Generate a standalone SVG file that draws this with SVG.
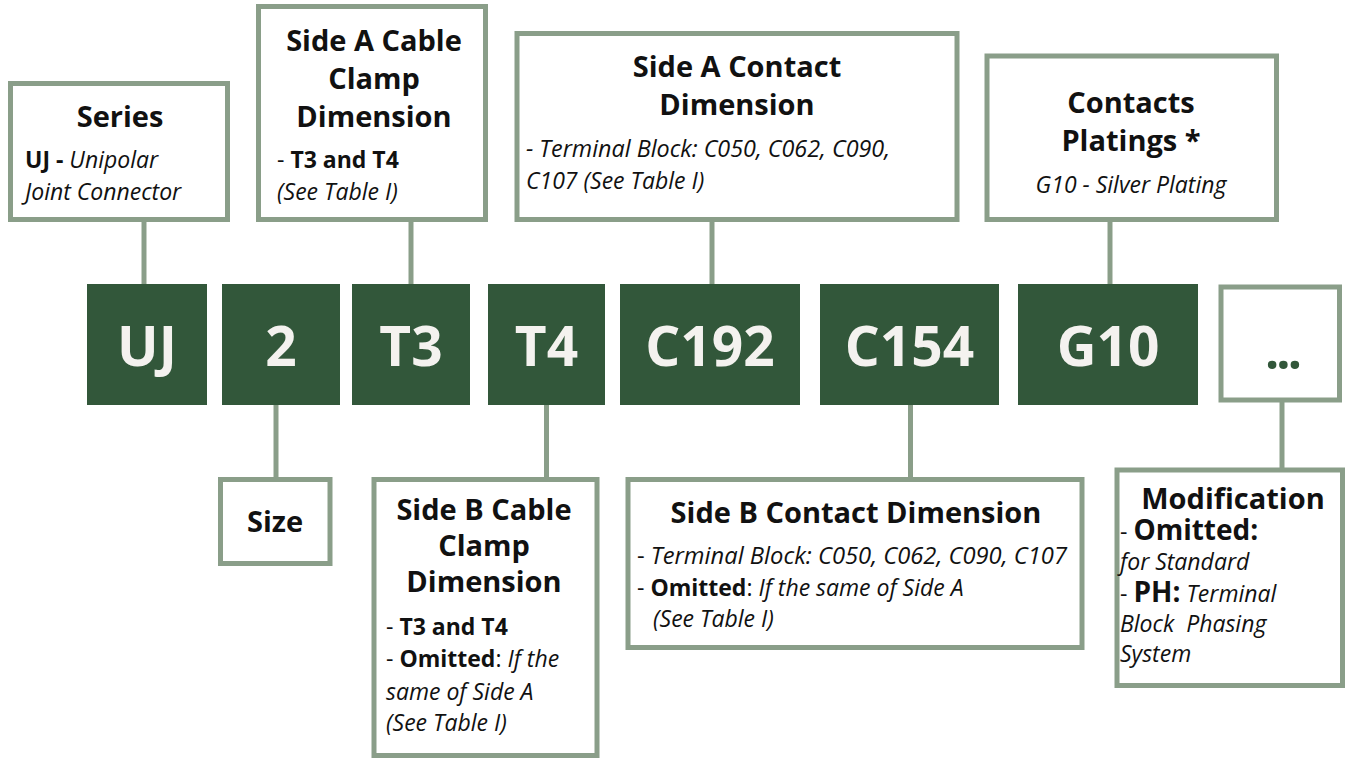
<svg xmlns="http://www.w3.org/2000/svg" width="1349" height="759" viewBox="0 0 1349 759">
<style>
.box{fill:#ffffff;stroke:#8a9e89;stroke-width:5}
.code{fill:#32573a}
.codet{font-family:"Open Sans","Liberation Sans",sans-serif;font-weight:700;font-size:55px;fill:#f4f2ef;text-anchor:middle}
.dots{font-family:"Open Sans","Liberation Sans",sans-serif;font-weight:700;font-size:50px;fill:#32573a;text-anchor:middle;letter-spacing:-3px}
.title{font-family:"Open Sans","Liberation Sans",sans-serif;font-weight:700;font-size:29px;fill:#111;text-anchor:middle}
.body{font-family:"Open Sans","Liberation Sans",sans-serif;font-size:23px;fill:#111}
.b{font-weight:700}
.i{font-style:italic}
.big{font-weight:700;font-size:28px}
.conn{stroke:#8a9e89;stroke-width:5;fill:none}
</style>
<rect width="1349" height="759" fill="#ffffff"/>
<g id="connectors">
<line class="conn" x1="144" y1="222" x2="144" y2="285"/>
<line class="conn" x1="411" y1="222" x2="411" y2="285"/>
<line class="conn" x1="712" y1="222" x2="712" y2="285"/>
<line class="conn" x1="1110" y1="222" x2="1110" y2="285"/>
<line class="conn" x1="276" y1="404" x2="276" y2="478"/>
<line class="conn" x1="546.5" y1="404" x2="546.5" y2="478"/>
<line class="conn" x1="910.5" y1="404" x2="910.5" y2="478"/>
<line class="conn" x1="1282" y1="401" x2="1282" y2="469"/>
</g>
<g id="code-UJ"><rect class="code" x="87" y="284" width="120" height="121"/><text class="codet" x="147" y="366">UJ</text></g>
<g id="code-2"><rect class="code" x="222" y="284" width="118" height="121"/><text class="codet" x="281" y="366">2</text></g>
<g id="code-T3"><rect class="code" x="352" y="284" width="118" height="121"/><text class="codet" x="411" y="366">T3</text></g>
<g id="code-T4"><rect class="code" x="488" y="284" width="117" height="121"/><text class="codet" x="546.5" y="366">T4</text></g>
<g id="code-C192"><rect class="code" x="620" y="284" width="180" height="121"/><text class="codet" x="710" y="366">C192</text></g>
<g id="code-C154"><rect class="code" x="820" y="284" width="179" height="121"/><text class="codet" x="909.5" y="366">C154</text></g>
<g id="code-G10"><rect class="code" x="1018" y="284" width="180" height="121"/><text class="codet" x="1108" y="366">G10</text></g>
<g id="code-more"><rect class="box" x="1221" y="287" width="118.5" height="113"/><text class="dots" x="1282" y="369">...</text></g>
<g id="series">
<rect class="box" x="10.5" y="83.5" width="217" height="136"/>
<text class="title" x="120" y="127">Series</text>
<text class="body" x="25" y="168"><tspan class="b">UJ - </tspan><tspan class="i">Unipolar</tspan></text>
<text class="body i" x="25" y="200">Joint Connector</text>
</g>
<g id="side-a-cable">
<rect class="box" x="258.5" y="6.5" width="227" height="213"/>
<text class="title" x="374" y="51">Side A Cable</text>
<text class="title" x="374" y="88.5">Clamp</text>
<text class="title" x="374" y="126.5">Dimension</text>
<text class="body" x="277" y="168">- <tspan class="b">T3 and T4</tspan></text>
<text class="body i" x="277" y="199.5">(See Table I)</text>
</g>
<g id="side-a-contact">
<rect class="box" x="517" y="33.5" width="440" height="186"/>
<text class="title" x="737" y="77">Side A Contact</text>
<text class="title" x="737" y="115">Dimension</text>
<text class="body i" x="526" y="157" textLength="364" lengthAdjust="spacingAndGlyphs">- Terminal Block: C050, C062, C090,</text>
<text class="body i" x="526" y="188.5">C107 (See Table I)</text>
</g>
<g id="contacts-platings">
<rect class="box" x="987" y="56" width="289.5" height="163.5"/>
<text class="title" x="1131" y="112.5">Contacts</text>
<text class="title" x="1131" y="151">Platings *</text>
<text class="body i" x="1131" y="192.5" text-anchor="middle">G10 - Silver Plating</text>
</g>
<g id="size">
<rect class="box" x="220.5" y="479.5" width="109.5" height="84"/>
<text class="title" x="275" y="531.5">Size</text>
</g>
<g id="side-b-cable">
<rect class="box" x="374" y="479.5" width="223" height="276"/>
<text class="title" x="484" y="520">Side B Cable</text>
<text class="title" x="484" y="556">Clamp</text>
<text class="title" x="484" y="592">Dimension</text>
<text class="body" x="386" y="635">- <tspan class="b">T3 and T4</tspan></text>
<text class="body" x="386" y="667">- <tspan class="b">Omitted</tspan>: <tspan class="i">If the</tspan></text>
<text class="body i" x="386" y="700">same of Side A</text>
<text class="body i" x="386" y="731">(See Table I)</text>
</g>
<g id="side-b-contact">
<rect class="box" x="628" y="479.5" width="454" height="168"/>
<text class="title" x="856" y="523">Side B Contact Dimension</text>
<text class="body" x="637" y="564" textLength="430" lengthAdjust="spacingAndGlyphs">- <tspan class="i">Terminal Block: C050, C062, C090, C107</tspan></text>
<text class="body" x="637" y="596">- <tspan class="b">Omitted</tspan>: <tspan class="i">If the same of Side A</tspan></text>
<text class="body i" x="653" y="627">(See Table I)</text>
</g>
<g id="modification">
<rect class="box" x="1117" y="470" width="225.5" height="215.5"/>
<text class="title" x="1233" y="509">Modification</text>
<text class="body" x="1120" y="540">- <tspan class="big">Omitted:</tspan></text>
<text class="body i" x="1120" y="570">for Standard</text>
<text class="body" x="1120" y="601.5">- <tspan class="big">PH:</tspan> <tspan class="i">Terminal</tspan></text>
<text class="body i" x="1120" y="631.5" xml:space="preserve">Block  Phasing</text>
<text class="body i" x="1120" y="661.5">System</text>
</g>
</svg>
